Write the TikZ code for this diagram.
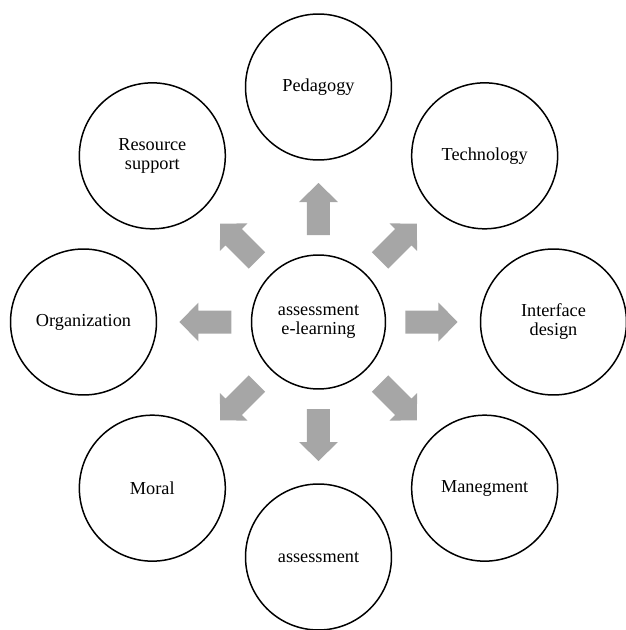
\documentclass[tikz,border=0pt]{standalone}
\usepackage{fontspec}
\setmainfont{Liberation Serif}

\tikzset{
  topic/.style={draw, circle, line width=0.85pt, minimum size=2.92cm, inner sep=0pt, align=center},
  hub/.style={topic, minimum size=2.68cm},
  blockarrow/.style={fill=gray!70}
}

\begin{document}
\begin{tikzpicture}[x=0.02cm, y=0.02cm, font=\fontsize{10.4}{10.8}\selectfont]
  \useasboundingbox (-318.5,-308) rectangle (307.5,322);
  % centre
  \node[hub] (elearn) at (0,0) {assessment\\e-learning};
  % ring of topics
  \node[topic] (ped)    at (90:235)  {Pedagogy};
  \node[topic] (tech)   at (45:235)  {Technology};
  \node[topic] (iface)  at (0:235)   {Interface\\design};
  \node[topic] (mgmt)   at (-45:235) {Manegment};
  \node[topic] (assess) at (-90:235) {assessment};
  \node[topic] (moral)  at (225:235) {Moral};
  \node[topic] (org)    at (180:235) {Organization};
  \node[topic] (res)    at (135:235) {Resource\\support};
  % block arrows
  \foreach \a in {0,45,...,315}
    \fill[blockarrow, shift={(elearn.center)}, rotate=\a]
      (87,-11.5) -- (120,-11.5) -- (120,-19.5) -- (139,0)
      -- (120,19.5) -- (120,11.5) -- (87,11.5) -- cycle;
\end{tikzpicture}
\end{document}
